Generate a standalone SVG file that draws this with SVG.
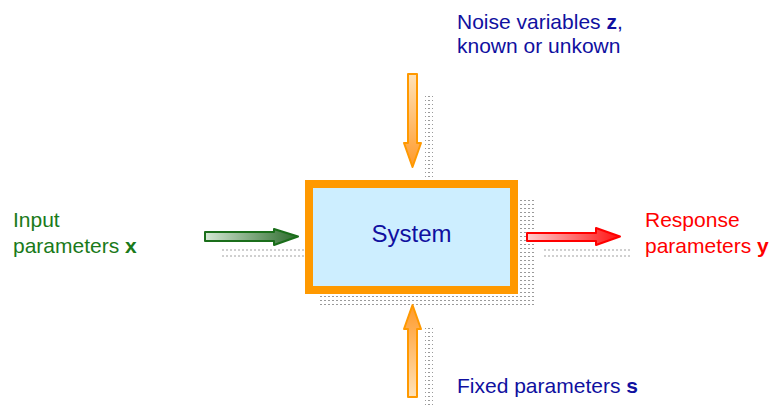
<svg xmlns="http://www.w3.org/2000/svg" width="773" height="407" viewBox="0 0 773 407">
<defs>
<pattern id="dots" width="4" height="4" patternUnits="userSpaceOnUse">
<rect x="0" y="0" width="2" height="1" fill="#9a9a9a"/>
</pattern>
<linearGradient id="gGreen" x1="0" y1="0" x2="1" y2="0">
<stop offset="0" stop-color="#d4e8d4"/>
<stop offset="1" stop-color="#2a6a2a"/>
</linearGradient>
<linearGradient id="gRed" x1="0" y1="0" x2="1" y2="0">
<stop offset="0" stop-color="#ffd0d0"/>
<stop offset="1" stop-color="#ff1010"/>
</linearGradient>
<linearGradient id="gDown" x1="0" y1="0" x2="0" y2="1">
<stop offset="0" stop-color="#ffe2b8"/>
<stop offset="1" stop-color="#ff9a2a"/>
</linearGradient>
<linearGradient id="gUp" x1="0" y1="1" x2="0" y2="0">
<stop offset="0" stop-color="#ffe2b8"/>
<stop offset="1" stop-color="#ff9a2a"/>
</linearGradient>
</defs>
<style>
.t{font-family:"Liberation Sans",Arial,sans-serif;font-size:21px}
.blue{fill:#1010a0}
.green{fill:#1a7a1a}
.red{fill:#ff0000}
.shadow{fill:url(#dots)}
.sl{stroke:#a0a0a0;stroke-width:1;stroke-dasharray:2 2;fill:none}
</style>
<g id="shadows">
<rect class="shadow" x="518" y="200" width="17" height="107"/>
<rect class="shadow" x="320" y="294" width="198" height="13"/>
<rect class="shadow" x="425" y="93" width="8" height="85"/>
<rect class="shadow" x="425" y="327" width="8" height="80"/>
<line class="sl" x1="222" y1="250" x2="305" y2="250"/>
<line class="sl" x1="222" y1="256" x2="305" y2="256"/>
<line class="sl" x1="544" y1="250" x2="630" y2="250"/>
<line class="sl" x1="544" y1="256" x2="630" y2="256"/>
</g>
<g id="system">
<rect x="309" y="184" width="205" height="106" fill="#cdeeff" stroke="#ff9900" stroke-width="8"/>
<text class="t blue" x="411.5" y="242" font-size="24" text-anchor="middle" style="font-size:24px">System</text>
</g>
<g id="connectors">
<polygon points="205,232 274,232 274,229 298,236.5 274,245 274,241 205,241" fill="url(#gGreen)" stroke="#1a6e1a" stroke-width="2" stroke-linejoin="round"/>
<polygon points="527,233 596,233 596,228 620,236.5 596,245 596,241 527,241" fill="url(#gRed)" stroke="#ff0000" stroke-width="2" stroke-linejoin="round"/>
<polygon points="408,74 417,74 417,143 421,143 412.5,167 404,143 408,143" fill="url(#gDown)" stroke="#ff9900" stroke-width="2" stroke-linejoin="round"/>
<polygon points="412.5,305 421,329 417,329 417,397 408,397 408,329 404,329" fill="url(#gUp)" stroke="#ff9900" stroke-width="2" stroke-linejoin="round"/>
</g>
<g id="noise">
<text class="t blue" x="457" y="29">Noise variables <tspan font-weight="bold">z</tspan>,</text>
<text class="t blue" x="457" y="53">known or unkown</text>
</g>
<g id="input">
<text class="t green" x="13" y="227">Input</text>
<text class="t green" x="13" y="253">parameters <tspan font-weight="bold">x</tspan></text>
</g>
<g id="response">
<text class="t red" x="645" y="227">Response</text>
<text class="t red" x="645" y="253">parameters <tspan font-weight="bold">y</tspan></text>
</g>
<g id="fixed">
<text class="t blue" x="457" y="393">Fixed parameters <tspan font-weight="bold">s</tspan></text>
</g>
</svg>
